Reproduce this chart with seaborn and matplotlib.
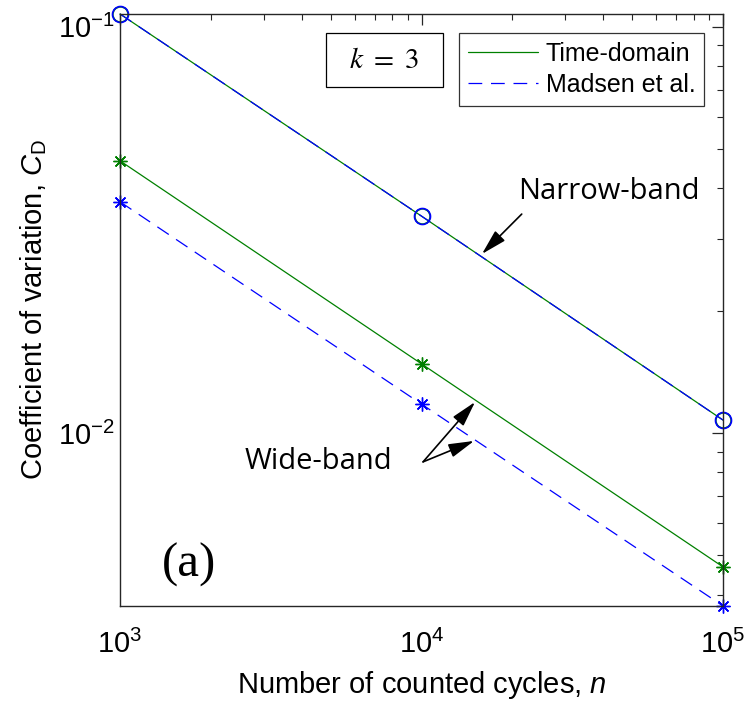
import matplotlib
matplotlib.use("Agg")
import matplotlib.pyplot as plt
import seaborn as sns
import numpy as np
from matplotlib.lines import Line2D
from matplotlib.patches import Rectangle
from matplotlib.ticker import LogLocator, NullFormatter

# ---- data ----
n_cycles = [1e3, 1e4, 1e5]
narrow_time = [0.1076, 0.0342, 0.01076]
narrow_madsen = [0.1076, 0.0342, 0.01076]
wide_time = [0.0468, 0.0148, 0.00468]
wide_madsen = [0.0371, 0.01178, 0.00375]

sns.set_theme(style="white")
plt.rcParams['font.family'] = ['Liberation Sans', 'DejaVu Sans']
plt.rcParams['mathtext.fontset'] = 'custom'
plt.rcParams['mathtext.rm'] = 'Liberation Sans'
plt.rcParams['mathtext.it'] = 'Liberation Sans:italic'
plt.rcParams['axes.unicode_minus'] = False
plt.rcParams['text.color'] = 'black'
plt.rcParams['axes.labelcolor'] = 'black'

fig = plt.figure(figsize=(7.5, 7.09), dpi=100)
ax = fig.add_axes([0.16, 0.1453, 0.804, 0.835])

green = "#008000"
blue = "#0000FF"
ast = (8, 2, 0)
dash = (11, 7)
lw = 0.9

sns.lineplot(x=n_cycles, y=narrow_time, ax=ax, color=green, lw=lw,
             marker="o", markersize=11, markerfacecolor="none",
             markeredgecolor=green, markeredgewidth=1.2, clip_on=False)
sns.lineplot(x=n_cycles, y=narrow_madsen, ax=ax, color=blue, lw=lw,
             dashes=dash, marker="o", markersize=11.5, markerfacecolor="none",
             markeredgecolor=blue, markeredgewidth=1.2, clip_on=False)
sns.lineplot(x=n_cycles, y=wide_time, ax=ax, color=green, lw=lw,
             marker=ast, markersize=10, markeredgecolor=green,
             markeredgewidth=1.0, clip_on=False)
sns.lineplot(x=n_cycles, y=wide_madsen, ax=ax, color=blue, lw=lw,
             dashes=dash, marker=ast, markersize=10, markeredgecolor=blue,
             markeredgewidth=1.0, clip_on=False)

ax.set_xscale("log")
ax.set_yscale("log")
ax.set_xlim(1e3, 1e5)
ax.set_ylim(0.00375, 0.1076)

ax.xaxis.set_major_locator(LogLocator(base=10, numticks=10))
ax.xaxis.set_minor_locator(LogLocator(base=10, subs=np.arange(2, 10), numticks=20))
ax.yaxis.set_major_locator(LogLocator(base=10, numticks=10))
ax.yaxis.set_minor_locator(LogLocator(base=10, subs=np.arange(2, 10), numticks=20))
ax.xaxis.set_minor_formatter(NullFormatter())
ax.yaxis.set_minor_formatter(NullFormatter())

spine_c = "#262626"
for s in ax.spines.values():
    s.set_color(spine_c)
    s.set_linewidth(1.0)
ax.tick_params(which="both", direction="in", top=True, right=True,
               colors=spine_c, labelcolor="black")
ax.tick_params(which="major", length=8, width=0.9, labelsize=21)
ax.tick_params(which="minor", length=4, width=0.8)
ax.tick_params(axis="y", pad=4)
ax.tick_params(axis="x", pad=17)

ax.set_xlabel("Number of counted cycles, $\\it{n}$", fontsize=21, labelpad=7)
ax.set_ylabel("Coefficient of variation, $C_{\\mathrm{D}}$", fontsize=21, labelpad=6)

# legend
handles = [Line2D([], [], color=green, lw=lw),
           Line2D([], [], color=blue, lw=lw, dashes=dash)]
leg = ax.legend(handles, ["Time-domain", "Madsen et al."], loc="upper right",
                bbox_to_anchor=(0.9685, 0.9679), fontsize=18, frameon=True,
                fancybox=False, edgecolor="black", handlelength=2.8,
                borderpad=0.35, labelspacing=0.3, handletextpad=0.3,
                borderaxespad=0.0)
leg.get_frame().set_linewidth(0.9)

# k = 3 box
ax.add_patch(Rectangle((0.3416, 0.8767), 0.1941, 0.0912, transform=ax.transAxes,
                       fc="white", ec="black", lw=0.9, zorder=5))
ax.text(0.438, 0.922, "$k\\ =\\ 3$", transform=ax.transAxes, fontsize=21,
        ha="center", va="center", zorder=6,
        math_fontfamily="stix")

# annotations
annfont = ['Open Sans', 'DejaVu Sans']
aprops = dict(arrowstyle="-|>,head_length=1.3,head_width=0.35",
              color="black", lw=1.2, shrinkA=0, shrinkB=0)
ax.text(2.09e4, 0.0377, "Narrow-band", fontsize=21, family=annfont,
        ha="left", va="baseline")
ax.annotate("", xy=(1.587e4, 0.0276), xytext=(2.15e4, 0.0346),
            arrowprops=aprops)
ax.text(4.54e3, 0.0085, "Wide-band", fontsize=21, family=annfont,
        ha="center", va="center")
for tip in [(1.505e4, 0.01192), (1.494e4, 0.00956)]:
    ax.annotate("", xy=tip, xytext=(1.012e4, 0.00849), arrowprops=aprops)

ax.text(1.378e3, 0.00473, "(a)", fontsize=35, family=['Liberation Serif'],
        ha="left", va="center")

fig.savefig("out.png", dpi=100)
